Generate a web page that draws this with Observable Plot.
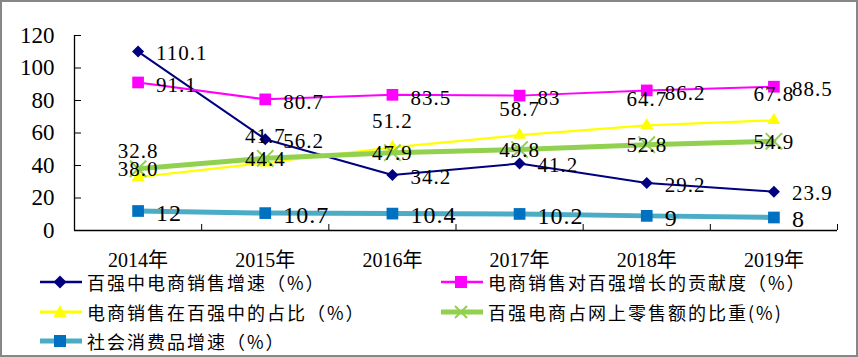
<!DOCTYPE html>
<html><head><meta charset="utf-8">
<script src="https://cdn.jsdelivr.net/npm/d3@7"></script>
<script src="https://cdn.jsdelivr.net/npm/@observablehq/plot@0.6"></script>
<style>
body{margin:0;background:#fff;}
#wrap{position:relative;width:858px;height:357px;overflow:hidden;background:#fff;}
#wrap svg.plot{position:absolute;left:0;top:0;}
#wrap svg.plot g[aria-label="text"] text{letter-spacing:1px;}
#border{position:absolute;left:0;top:0;width:858px;height:357px;box-sizing:border-box;border:2px solid #878787;pointer-events:none;}
.leg{position:absolute;height:24px;display:flex;align-items:center;font-family:"Noto Sans CJK SC",sans-serif;font-size:18px;letter-spacing:2px;color:#000;white-space:nowrap;}
.leg svg{margin-right:5px;}
</style></head>
<body><div id="wrap"><div id="border"></div></div>
<script>
const years = ["2014年","2015年","2016年","2017年","2018年","2019年"];
const growthTop100 = [110.1, 56.2, 34.2, 41.2, 29.2, 23.9];
const contribution = [91.1, 80.7, 83.5, 83, 86.2, 88.5];
const shareInTop100 = [32.8, 41.7, 51.2, 58.7, 64.7, 67.8];
const shareOnline = [38.0, 44.4, 47.9, 49.8, 52.8, 54.9];
const retailGrowth = [12, 10.7, 10.4, 10.2, 9, 8];
const seriesNames = ["百强中电商销售增速（%）","电商销售对百强增长的贡献度（%）","电商销售在百强中的占比（%）","百强电商占网上零售额的比重(%)","社会消费品增速（%）"];
const yTicks = [0, 20, 40, 60, 80, 100, 120];

const serif = "'Liberation Serif','Noto Sans CJK SC',serif";
const rows = vals => vals.map((v, i) => ({x: i + 0.5, v}));
const sNavy = rows(growthTop100), sMag = rows(contribution), sYel = rows(shareInTop100),
      sGrn = rows(shareOnline), sBlu = rows(retailGrowth);

const diamond = {draw(c, size){ const r = Math.sqrt(size/2); c.moveTo(0,-r); c.lineTo(r,0); c.lineTo(0,r); c.lineTo(-r,0); c.closePath(); }};

const plot = Plot.plot({
  width: 858, height: 270,
  marginLeft: 74, marginRight: 21, marginTop: 35, marginBottom: 40,
  style: {background: "transparent", fontFamily: serif, color: "#000"},
  x: {domain: [0, years.length], axis: null},
  y: {domain: [0, 120], axis: null},
  marks: [
    Plot.axisY({ticks: yTicks, tickSize: -7, tickPadding: 27, fontSize: 23, label: null, stroke: "#000"}),
    Plot.axisX({ticks: d3.range(years.length + 1), tickSize: -6, tickFormat: () => "", label: null, stroke: "#000"}),
    Plot.axisX({ticks: years.map((_, i) => i + 0.5), tickSize: 0, tickPadding: 22, fontSize: 20, tickFormat: t => years[Math.floor(t)], label: null}),
    Plot.ruleX([0], {stroke: "#000", strokeWidth: 1.3}),
    Plot.ruleY([0], {stroke: "#000", strokeWidth: 1.3}),
    Plot.lineY(sNavy, {x: "x", y: "v", stroke: "#000080", strokeWidth: 2}),
    Plot.dot(sNavy, {x: "x", y: "v", symbol: diamond, r: 4.8, fill: "#000080"}),
    Plot.lineY(sMag, {x: "x", y: "v", stroke: "#FF00FF", strokeWidth: 2}),
    Plot.dot(sMag, {x: "x", y: "v", symbol: "square", r: 6.6, fill: "#FF00FF"}),
    Plot.lineY(sYel, {x: "x", y: "v", stroke: "#FFFF00", strokeWidth: 2.2}),
    Plot.dot(sYel, {x: "x", y: "v", symbol: "triangle", r: 4.8, fill: "#FFFF00"}),
    Plot.lineY(sGrn, {x: "x", y: "v", stroke: "#92D050", strokeWidth: 5}),
    Plot.dot(sGrn, {x: "x", y: "v", symbol: "times", r: 7.5, stroke: "#92D050", strokeWidth: 2}),
    Plot.lineY(sBlu, {x: "x", y: "v", stroke: "#4BACC6", strokeWidth: 5}),
    Plot.dot(sBlu, {x: "x", y: "v", symbol: "square", r: 6.6, fill: "#0070C0"}),
    Plot.text(sNavy, {x: "x", y: "v", text: d => String(d.v), textAnchor: "start", dx: 18, dy: 2, fontSize: 21, fontFamily: serif, fill: "#000"}),
    Plot.text(sMag, {x: "x", y: "v", text: d => String(d.v), textAnchor: "start", dx: 18, dy: 3, fontSize: 21, fontFamily: serif, fill: "#000"}),
    Plot.text(sYel, {x: "x", y: "v", text: d => String(d.v), dy: -26, fontSize: 21, fontFamily: serif, fill: "#000"}),
    Plot.text(sGrn, {x: "x", y: "v", text: d => d.v.toFixed(1), dy: 1, fontSize: 21, fontFamily: serif, fill: "#000"}),
    Plot.text(sBlu, {x: "x", y: "v", text: d => String(d.v), textAnchor: "start", dx: 18, dy: 2, fontSize: 24, fontFamily: serif, fill: "#000"})
  ]
});
plot.classList.add("plot");
const wrap = document.getElementById("wrap");
wrap.insertBefore(plot, wrap.firstChild);

// legend
const swatch = {
  0: `<line x1="0" y1="12" x2="42" y2="12" stroke="#000080" stroke-width="2.5"/><path d="M20,5.5L26.5,12L20,18.5L13.5,12Z" fill="#000080"/>`,
  1: `<line x1="0" y1="12" x2="42" y2="12" stroke="#FF00FF" stroke-width="2.5"/><rect x="14" y="6" width="12" height="12" fill="#FF00FF"/>`,
  2: `<line x1="0" y1="12" x2="42" y2="12" stroke="#FFFF00" stroke-width="3"/><path d="M20,5L26.5,17L13.5,17Z" fill="#FFFF00"/>`,
  3: `<line x1="0" y1="12" x2="42" y2="12" stroke="#92D050" stroke-width="5" stroke-linecap="round"/><path d="M14,6L26,18M26,6L14,18" stroke="#92D050" stroke-width="2"/>`,
  4: `<line x1="0" y1="12" x2="42" y2="12" stroke="#4BACC6" stroke-width="5" stroke-linecap="round"/><rect x="14" y="6" width="12" height="12" fill="#0070C0"/>`
};
const legPos = [[40, 282], [441, 282], [40, 312], [441, 312], [40, 341]];
seriesNames.forEach((name, i) => {
  const d = document.createElement("div");
  d.className = "leg";
  d.style.left = legPos[i][0] + "px";
  d.style.top = (legPos[i][1] - 12) + "px";
  d.innerHTML = `<svg width="42" height="24">${swatch[i]}</svg><span>${name}</span>`;
  wrap.insertBefore(d, document.getElementById("border"));
});
</script></body></html>
